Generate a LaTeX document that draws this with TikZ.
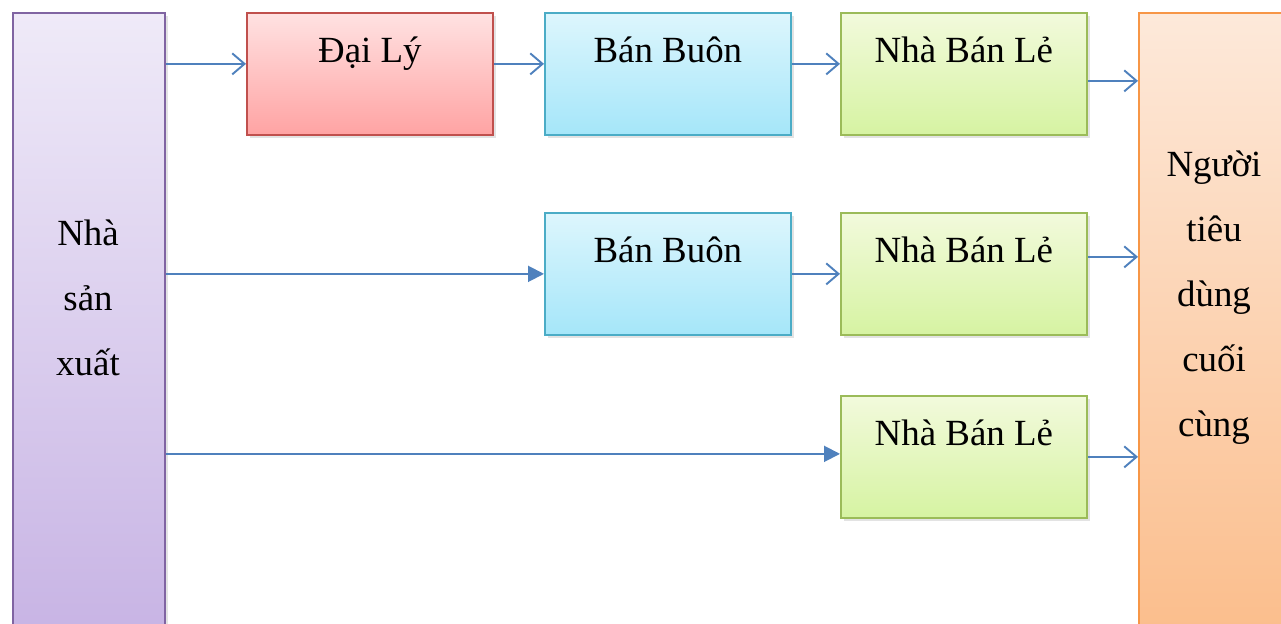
\documentclass[tikz,border=0pt]{standalone}
\usepackage{fontspec}
\setmainfont{Liberation Serif}
\usetikzlibrary{arrows.meta,shadows}

\definecolor{linkblue}{HTML}{4F81BD}
\definecolor{prodline}{HTML}{8064A2}
\definecolor{prodtop}{HTML}{EFEAF8}
\definecolor{prodbot}{HTML}{C7B3E4}
\definecolor{consline}{HTML}{F79646}
\definecolor{constop}{HTML}{FDE9DA}
\definecolor{consbot}{HTML}{FBBD8B}
\definecolor{redline}{HTML}{C0504D}
\definecolor{redtop}{HTML}{FFE2E2}
\definecolor{redbot}{HTML}{FFA3A3}
\definecolor{cyanline}{HTML}{4BACC6}
\definecolor{cyantop}{HTML}{DDF6FD}
\definecolor{cyanbot}{HTML}{A5E6F9}
\definecolor{greenline}{HTML}{9BBB59}
\definecolor{greentop}{HTML}{F2FADC}
\definecolor{greenbot}{HTML}{D6F3A2}

\tikzset{
  box/.style={draw, line width=1pt, rectangle, anchor=north west,
    minimum width=4.92cm, minimum height=2.44cm, inner ysep=0pt,
    text height=28pt, text depth=41pt,
    font=\fontsize{21}{37}\selectfont,
    drop shadow={opacity=0.22, shadow xshift=1.8pt, shadow yshift=-1.8pt}},
  tallbox/.style={draw, line width=1pt, rectangle, anchor=north west,
    minimum height=12.6cm,
    drop shadow={opacity=0.22, shadow xshift=1.8pt, shadow yshift=-1.8pt}},
  redbox/.style={box, draw=redline, top color=redtop, bottom color=redbot},
  cyanbox/.style={box, draw=cyanline, top color=cyantop, bottom color=cyanbot},
  greenbox/.style={box, draw=greenline, top color=greentop, bottom color=greenbot},
  bigtext/.style={align=center, font=\fontsize{21}{37}\selectfont},
  openarrow/.style={draw=linkblue, line width=1.1pt, -{Straight Barb[length=7pt,width=12pt]}},
  fullarrow/.style={draw=linkblue, line width=1.1pt, -{Triangle[length=9pt,width=9pt]}}
}

\begin{document}
\begin{tikzpicture}[x=0.02cm,y=-0.02cm]
  \useasboundingbox (0,0) rectangle (1281,623);
  \clip (0,0) rectangle (1281,623);

  % Producer and consumer
  \node[tallbox, minimum width=3.04cm, draw=prodline,
    top color=prodtop, bottom color=prodbot] (prod) at (12,12) {};
  \node[bigtext] (prodtxt) at (88,298) {Nhà\\sản\\xuất};
  \node[tallbox, minimum width=4cm, draw=consline,
    top color=constop, bottom color=consbot] (cons) at (1138,12) {};
  \node[bigtext] (constxt) at (1214,298) {Người\\tiêu\\dùng\\cuối\\cùng};

  % Channel 1
  \node[redbox] (daily) at (246,12) {Đại Lý};
  \node[cyanbox] (buon1) at (544,12) {Bán Buôn};
  \node[greenbox] (le1) at (840,12) {Nhà Bán Lẻ};

  % Channel 2
  \node[cyanbox] (buon2) at (544,212) {Bán Buôn};
  \node[greenbox] (le2) at (840,212) {Nhà Bán Lẻ};

  % Channel 3
  \node[greenbox] (le3) at (840,395) {Nhà Bán Lẻ};

  % Arrows
  \coordinate (r1) at ([yshift=2mm]daily.west);
  \draw[openarrow] (prod.east |- r1) -- (r1);
  \draw[openarrow] (daily.east |- r1) -- (buon1.west |- r1);
  \draw[openarrow] (buon1.east |- r1) -- (le1.west |- r1);
  \coordinate (c1) at ([yshift=-1.4mm]le1.east);
  \draw[openarrow] (c1) -- (cons.west |- c1);

  \draw[fullarrow] (prod.east |- buon2.west) -- (buon2.west);
  \draw[openarrow] (buon2.east) -- (le2.west);
  \coordinate (c2) at ([yshift=3.4mm]le2.east);
  \draw[openarrow] (c2) -- (cons.west |- c2);

  \coordinate (r3) at ([yshift=0.6mm]le3.west);
  \draw[fullarrow] (prod.east |- r3) -- (r3);
  \draw[openarrow] (le3.east) -- (cons.west |- le3.east);
\end{tikzpicture}
\end{document}
